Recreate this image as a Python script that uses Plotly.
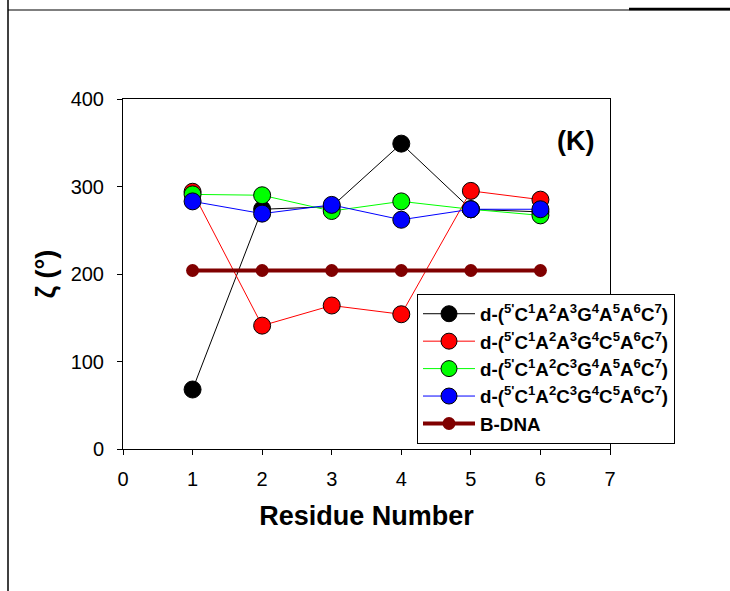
import plotly.graph_objects as go

residues = [1, 2, 3, 4, 5, 6]
black_vals = [68, 274, 277, 349, 274, 271]
red_vals = [294, 141, 164, 154, 295, 285]
green_vals = [291, 290, 272, 283, 274, 267]
blue_vals = [283, 269, 279, 262, 274, 274]
bdna_vals = [204, 204, 204, 204, 204, 204]

names = [
    "<b>d-(<sup>5'</sup>C<sup>1</sup>A<sup>2</sup>A<sup>3</sup>G<sup>4</sup>A<sup>5</sup>A<sup>6</sup>C<sup>7</sup>)</b>",
    "<b>d-(<sup>5'</sup>C<sup>1</sup>A<sup>2</sup>A<sup>3</sup>G<sup>4</sup>C<sup>5</sup>A<sup>6</sup>C<sup>7</sup>)</b>",
    "<b>d-(<sup>5'</sup>C<sup>1</sup>A<sup>2</sup>C<sup>3</sup>G<sup>4</sup>A<sup>5</sup>A<sup>6</sup>C<sup>7</sup>)</b>",
    "<b>d-(<sup>5'</sup>C<sup>1</sup>A<sup>2</sup>C<sup>3</sup>G<sup>4</sup>C<sup>5</sup>A<sup>6</sup>C<sup>7</sup>)</b>",
    "<b>B-DNA</b>",
]
series = [black_vals, red_vals, green_vals, blue_vals]
colors = ["#000000", "#ff0000", "#00ff00", "#0000ff"]

fig = go.Figure()
for vals, col, nm in zip(series, colors, names[:4]):
    fig.add_trace(go.Scatter(
        x=residues, y=vals, mode="lines+markers", name=nm,
        line=dict(color=col, width=1),
        marker=dict(size=17, color=col, line=dict(color="black", width=1)),
    ))
fig.add_trace(go.Scatter(
    x=residues, y=bdna_vals, mode="lines+markers", name=names[4],
    line=dict(color="#800000", width=4),
    marker=dict(size=13, color="#800000"),
))

L, R, T, B = 123, 120, 99, 142
W, H = 730, 591
pw, ph = W - L - R, H - T - B

def px(x):
    return (x - L) / pw

def py(y):
    return (H - B - y) / ph

shapes = [
    dict(type="line", xref="paper", yref="paper", x0=px(8), x1=px(8), y0=py(0), y1=py(591),
         line=dict(color="black", width=1.5)),
    dict(type="line", xref="paper", yref="paper", x0=px(8), x1=px(730), y0=py(10), y1=py(10),
         line=dict(color="black", width=1.2)),
    dict(type="line", xref="paper", yref="paper", x0=px(629), x1=px(730), y0=py(9), y1=py(9),
         line=dict(color="black", width=2.5)),
]

fig.update_layout(
    width=W, height=H,
    margin=dict(l=L, r=R, t=T, b=B),
    paper_bgcolor="white", plot_bgcolor="white",
    font=dict(family="Liberation Sans, Arial, sans-serif", color="black"),
    showlegend=True,
    legend=dict(
        x=px(417), y=py(294), xanchor="left", yanchor="top",
        bgcolor="white", bordercolor="black", borderwidth=1,
        font=dict(size=18.8, color="black"),
        tracegroupgap=0, itemsizing="trace", itemwidth=52,
    ),
    shapes=shapes,
    annotations=[dict(
        text="<b>(K)</b>", x=px(575), y=py(141), xref="paper", yref="paper",
        xanchor="center", yanchor="middle",
        showarrow=False, font=dict(size=27, color="black"),
    )],
)
fig.update_xaxes(
    range=[0, 7], tickmode="linear", tick0=0, dtick=1,
    showline=True, linecolor="black", linewidth=1, mirror=True,
    ticks="outside", ticklen=5, tickcolor="black",
    showgrid=False, zeroline=False,
    tickfont=dict(size=20), ticklabelstandoff=7,
    title=dict(text="<b>Residue Number</b>", font=dict(size=27), standoff=17),
)
fig.update_yaxes(
    range=[0, 400], tickmode="linear", tick0=0, dtick=100,
    showline=True, linecolor="black", linewidth=1, mirror=True,
    ticks="outside", ticklen=5, tickcolor="black",
    showgrid=False, zeroline=False,
    tickfont=dict(size=20), ticklabelstandoff=9,
    title=dict(text="<b>ζ (°)</b>", font=dict(size=27), standoff=7),
)

fig.write_html("out.html")
